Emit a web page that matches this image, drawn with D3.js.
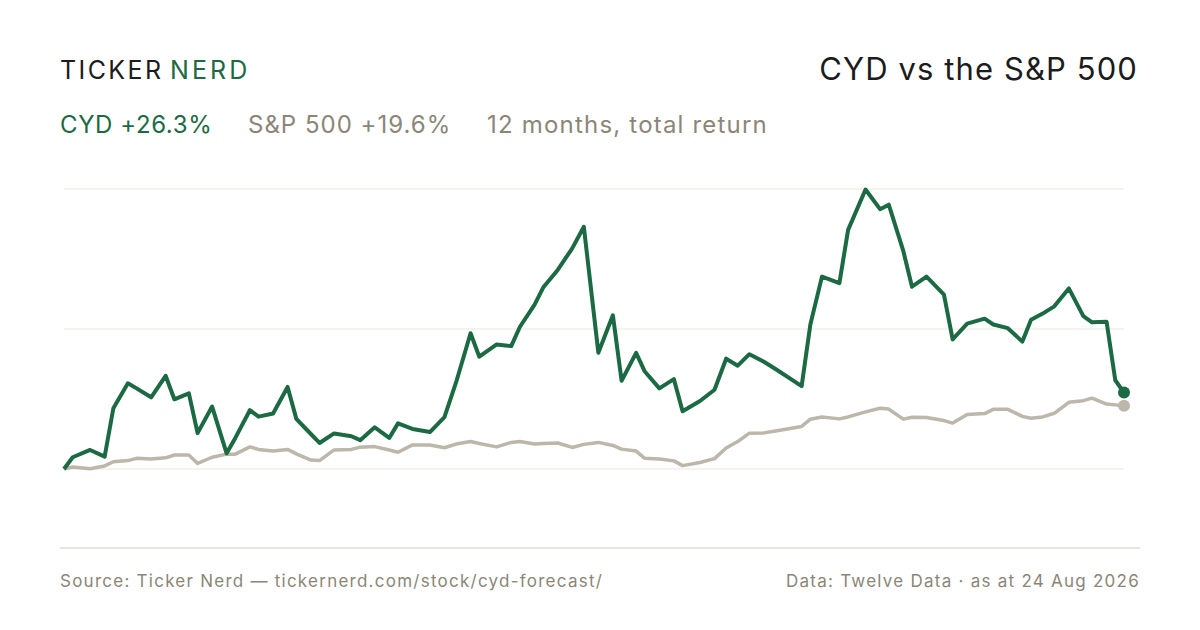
<!doctype html>
<html>
  <head>
    <meta http-equiv="Content-Type" content="text/html; charset=UTF-8">
    <style>
      body { margin: 0; background: #fff; }
      svg text { font-family: Inter, "Noto Sans", sans-serif; }
    </style>
  </head>
  <body>
    <div id="chart"></div>
    <script src="https://d3js.org/d3.v7.min.js"></script>
    <script>
      // dias desde el 24 Aug 2025 (un punto cada 3 sesiones)
      var days = [0, 3, 9, 14, 17, 22, 25, 30, 35, 38, 43, 46, 51, 56, 59, 64, 67, 72, 77, 80,
                  85, 88, 93, 99, 102, 107, 112, 115, 120, 126, 131, 135, 140, 143, 149, 154, 157, 162, 165, 170,
                  175, 179, 184, 189, 192, 197, 200, 205, 210, 213, 219, 224, 228, 232, 236, 241, 245, 254, 257, 261,
                  267, 270, 276, 281, 284, 289, 292, 297, 303, 306, 311, 317, 320, 325, 330, 333, 337, 341, 346, 351,
                  354, 359, 362, 365];

      // retorno total acumulado, %
      var cydReturn = [0, 4.2, 6.8, 4.4, 21.7, 30.6, 28.8, 25.6, 33.3, 24.9, 27.0, 12.8, 22.3, 5.6, 11.1, 21.0, 18.7, 19.8, 29.3, 17.9,
                       12.5, 9.3, 12.7, 11.7, 10.3, 14.9, 11.1, 16.3, 14.3, 13.2, 18.5, 30.9, 48.5, 40.1, 44.5, 43.9, 50.8, 58.6, 64.8, 71.1,
                       78.8, 86.5, 41.5, 54.9, 31.5, 41.5, 34.8, 28.8, 32.1, 20.6, 24.3, 28.3, 39.4, 36.9, 41.0, 38.3, 35.7, 29.6, 51.6, 68.7,
                       66.4, 85.4, 99.8, 92.8, 94.4, 77.9, 65.1, 68.7, 62.3, 46.3, 51.9, 53.7, 51.6, 50.3, 45.5, 53.3, 55.5, 58.1, 64.5, 54.6,
                       52.4, 52.6, 31.7, 27.3];

      var spxReturn = [0, 0.7, 0.1, 1.1, 2.6, 3.0, 3.8, 3.6, 4.0, 5.0, 5.0, 2.0, 4.2, 5.3, 5.3, 7.9, 7.0, 6.4, 7.0, 5.4,
                       3.2, 3.0, 6.8, 7.0, 7.8, 8.0, 6.8, 6.0, 8.6, 8.6, 7.6, 8.9, 9.8, 9.1, 7.9, 9.5, 9.8, 8.9, 9.1, 9.3,
                       7.7, 8.8, 9.5, 8.4, 7.1, 6.4, 3.8, 3.6, 2.9, 1.2, 2.3, 3.7, 7.5, 9.8, 12.8, 12.9, 13.6, 15.2, 17.8, 18.6,
                       17.9, 18.6, 20.4, 21.7, 21.4, 17.8, 18.5, 18.4, 17.3, 16.4, 19.5, 19.8, 21.3, 21.3, 18.8, 18.1, 18.6, 19.9, 23.8, 24.4,
                       25.3, 23.2, 22.9, 22.6];

      var gridTicks = [0, 50, 100];

      var headline = [
        {text: "CYD +26.3%", color: "#1b6a43", x: 60, spacing: 0.6},
        {text: "S&P 500 +19.6%", color: "#8b8677", x: 248, spacing: 1.0},
        {text: "12 months, total return", color: "#8b8677", x: 487, spacing: 1.2}
      ];

      var width = 1200,
          height = 630,
          green = "#1b6a43",
          sand = "#bdb6aa";

      var svg = d3.select("#chart").append("svg")
          .attr("width", width)
          .attr("height", height);

      var x = d3.scaleLinear().domain([0, 365]).range([64, 1124]);
      var y = d3.scaleLinear().domain([0, 100]).range([469, 189]);

      // marca
      var brand = svg.append("text")
          .attr("y", 79)
          .attr("font-size", 25)
          .attr("letter-spacing", 2.4);
      brand.append("tspan").attr("x", 60).attr("fill", "#1c1c1c").text("TICKER");
      brand.append("tspan").attr("x", 170).attr("fill", green).attr("letter-spacing", 3.1).text("NERD");

      svg.append("text")
          .attr("x", 1138).attr("y", 80)
          .attr("text-anchor", "end")
          .attr("font-size", 31)
          .attr("letter-spacing", 1.1)
          .attr("fill", "#1c1c1c")
          .text("CYD vs the S&P 500");

      svg.selectAll(".headline")
          .data(headline)
          .enter().append("text")
          .attr("class", "headline")
          .attr("x", function(d) { return d.x; })
          .attr("y", 133)
          .attr("font-size", 24)
          .attr("letter-spacing", function(d) { return d.spacing; })
          .attr("fill", function(d) { return d.color; })
          .text(function(d) { return d.text; });

      // lineas guia sin etiquetas
      svg.selectAll(".grid")
          .data(gridTicks)
          .enter().append("line")
          .attr("class", "grid")
          .attr("x1", x(0)).attr("x2", x(365))
          .attr("y1", function(d) { return y(d); })
          .attr("y2", function(d) { return y(d); })
          .attr("stroke", "#ebe8e1")
          .attr("stroke-width", 1.2);

      var spxData = days.map(function(d, i) { return [d, spxReturn[i]]; });
      var cydData = days.map(function(d, i) { return [d, cydReturn[i]]; });

      var line = d3.line()
          .x(function(d) { return x(d[0]); })
          .y(function(d) { return y(d[1]); });

      svg.append("path")
          .datum(spxData)
          .attr("fill", "none")
          .attr("stroke", sand)
          .attr("stroke-width", 3.5)
          .attr("stroke-linejoin", "round")
          .attr("d", line);

      svg.append("path")
          .datum(cydData)
          .attr("fill", "none")
          .attr("stroke", green)
          .attr("stroke-width", 4)
          .attr("stroke-linejoin", "round")
          .attr("d", line);

      var last = days.length - 1;
      svg.append("circle")
          .attr("cx", x(days[last])).attr("cy", y(spxReturn[last]))
          .attr("r", 6).attr("fill", sand);
      svg.append("circle")
          .attr("cx", x(days[last])).attr("cy", y(cydReturn[last]))
          .attr("r", 6).attr("fill", green);

      // pie
      svg.append("line")
          .attr("x1", 60).attr("x2", 1140)
          .attr("y1", 548).attr("y2", 548)
          .attr("stroke", "#e0dcd2")
          .attr("stroke-width", 1.5);

      svg.append("text")
          .attr("x", 60).attr("y", 587)
          .attr("font-size", 17)
          .attr("letter-spacing", 1.25)
          .attr("fill", "#8b8677")
          .text("Source: Ticker Nerd \u2014 tickernerd.com/stock/cyd-forecast/");

      svg.append("text")
          .attr("x", 1140).attr("y", 587)
          .attr("text-anchor", "end")
          .attr("font-size", 17)
          .attr("letter-spacing", 1.25)
          .attr("fill", "#8b8677")
          .text("Data: Twelve Data \u00b7 as at 24 Aug 2026");
    </script>
  </body>
</html>
